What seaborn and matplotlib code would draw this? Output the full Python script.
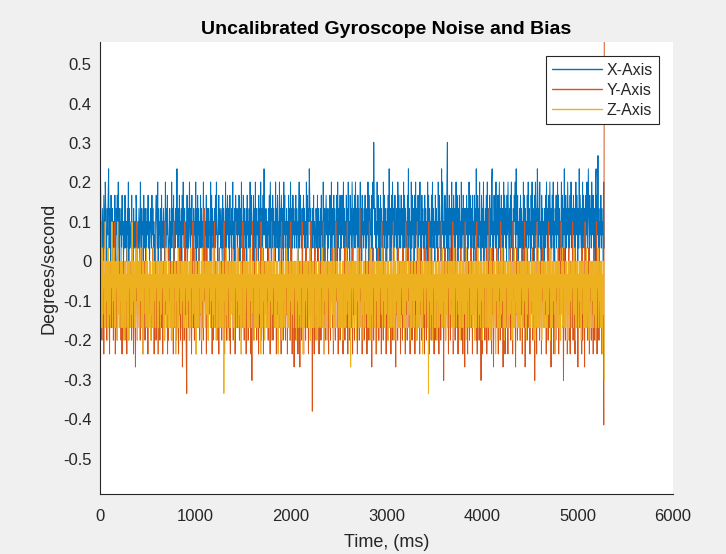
import matplotlib
matplotlib.use("Agg")
import matplotlib.pyplot as plt
import numpy as np
import pandas as pd
import seaborn as sns

# gyro readings are quantised, one level is about 0.0335 deg/s
STEP = 0.0335
T_END = 5280  # ms

# each char is one sample: level = int(c, 36) - offset
x_offset = 3
x_codes = (
    "7a5647538649734758a476385" "4736458437582947365748563" "6485463759374564836475463"
    "8745647539647563845736475" "8463576485746354786493756" "4738564756394758634573649"
    "5748364756a64738564738596" "4735648374596475836475649" "3748573648574659473658475"
    "4756394857463748596436857" "6475384756394758647385647" "5946374857647586374956384"
    "7564738564739487564837594" "6756384759647385a56475463" "7584963748574639574856394"
    "7586473958465746385749637" "4857465847563794856473685" "7463958476a85736475846357"
    "6483756473856495374685736" "4758639475683746583947568" "3748569473658475946385749"
    "6375849657384756947385647" "5837465938475648397c85746" "3958476385746395847563748"
    "5a63748596473856473958476" "4857639485746385a47563948" "5763849576384759463857463"
    "8574639584756384957463857" "4639587463a59746385749c37" "4857639475863749586374856"
    "3947586374758637495863748" "5638475a6384759463857493" "6574839576384759a46385749"
    "4758369475863749586473859" "6374859463758694a75836475" "8475639485746385947563849"
    "5763849576a84759463857463" "7485963748596374859463758" "4695837465938475a63847596"
    "3748596475863749586374a58" "6473958476385947a63857496" "5847639a485b4736584756394")

# y and z use their own level tables (deg/s)
y_levels = {"h": 0.168, "g": 0.134, "f": 0.1, "e": 0.034, "d": 0.0, "c": -0.034,
            "b": -0.067, "a": -0.067, "9": -0.1, "8": -0.134, "7": -0.168,
            "6": -0.2, "5": -0.235, "4": -0.268, "3": -0.302, "2": -0.335,
            "1": -0.38, "0": -0.4}
y_codes = (
    "e9b6d8a5c7f9b6a8e7c5d9b7a" "8d6b9f5c7a6e8b9d7a6c5a8d7" "b6d9a5e8c6b7a9d6b8e5a7c4b"
    "9f6a8d7b6a9e7c5b8d6a9c7b5" "c8ad7b6a9e8c5b7f6a8d5b9a6" "c8e7b5d9a6f8c7b5a6e9b7d6a"
    "8c5f7b9a6d8c75b8e6a9d4c7b" "6f8a52e9b7c6a8d5b9f7e6a8c" "5b7da9e6c8b5d7a6g9b8c5e7b"
    "6a8d9c7e5a6b8f7d9a6c8b5e7" "a9d6c8b7f5a9e6d8d7b6a5c9e" "8b6d7a5f8cb7e9a6c8d5b7f9a"
    "6e8c5a8d6b9c7e5a3f8b6d9c7" "e6a8b5d7c9f6a8e5b7d9c7b9a" "6e8d5c7f9b6a8e79a5d8c6b7e"
    "9a5f8c6d7ba6e8c5b9d7a6f8e" "5c7b4d8a6c9e5b7d4a8c6f9b5" "d8a6e9c7b5d8a6f9c1b7a5e8d"
    "6b9a7e5c8d6a9b7f5c8e6a9d7" "b5c8a6d9e7b5a8c6f9d7b5a8e" "6c9b7d5a8e6c9b7f5a8d6c9b7"
    "e5a8d6b9c7a5e8d6g9b7c5a8d" "6b9e7c5a8d6f9b7c4a8e6d9b7" "c5a8e6d9b7a5f8c6d9b7e5a8c"
    "6d9b7a5e8c6f9d7b4a8c6e9b7" "d5a8c6e9b7d5f8a6c9e7b5d8a" "6c9e7b5a8d6f9c7b5e8a6d9c7"
    "b5e8a6d9c7f5b8a6e9d7c5b8a" "6d9c7e5b8a6f9d7c3b8e6a9d7" "c5b8e6a9d7f5c8b6e9a7d5c8b"
    "7e9a6d5c8b4f9e7a5d8c6b9e7" "a5d8c7b9e6f5a8d6c9b3e5a8d" "9c6b7e5a8d6g9c7b5e8a4d9c6"
    "b7e8a5d9c6f7b8a4e9d5c7b8a" "5d9c8e6b7a5f9d7c4b8e6a9d7" "c6b8e5a9d7f4c8b6e9a7d5c8b"
    "9e6a7d3c8b5f9e7a6d8c5b9e7" "a7d8c5b9e6f7a8d4c9b7e5a8d" "6c9b7e5a8d6f9c7b3e8a6d9c5"
    "b8e6a5d9c7f6b8a5e9d7c4b8a" "7d9c5e6b8a4f9d7c6b8e5a9d6" "c8b5e6a9d7f5c8b6e9a7d5c8b")
y_first = [0.556]
y_last = [-0.415, 0.556]

z_levels = {"h": 0.235, "d": 0.1, "c": 0.034, "b": 0.0, "a": -0.034, "9": -0.067,
            "8": -0.1, "7": -0.134, "6": -0.168, "5": -0.168, "4": -0.2,
            "3": -0.235, "2": -0.268, "1": -0.302, "0": -0.335}
z_codes = (
    "hdb5c7b9a5d6b8b4c5b7a5b9d" "5b8c6b5a9b4d7b5a8b6c5b9a4" "b7b5a8c6b4b9a5b7d5b8a6b5c"
    "9b4a7b5b8c6a5b3b9a7b5c8b6" "a5b9b4a7b6c5b8a5b9b3a6b8b" "5a7b9b6a4b8c5b7a5b9b6a8b4"
    "b7a5b9b3a8b6c5b9a7b5b8a4b" "6b9a5b7b8a4b6c9b5a7b8a5b3" "b8a6b5b9a7b4c8b5a9b6b7a5b"
    "4b9a6b8b5a7c5b9a4b6b8a5b7" "b5a9b6b0a8b5c7b4a9b6b5a8b" "7b5a4b9b6a8c5b7a5b3b9a6b8"
    "5b7a9b4b6a5c8b5a7b9b4a6b5" "b8a5b7b9a3b6c5b8a4b7b5a9b" "6b5a8b4b7a9c5b6a5b8b3a7b5"
    "b9a4b6b8a5b7c9b5a6b4b8a5b" "7b5a9b6b4a8c5b7a5b9b6a3b8" "5b8a6b9b5a7c4b8a5b6b9a5b7"
    "b4a7b5b8a6b9c5b3a8b5b7a4b" "9b6a5b8b7a4c6b5a9b8b5a7b6" "b5a8b4b9a6b5c7b8a5b6b2a9b"
    "6b9a5b7b4a8c5b6a9b5b7a4b8" "b5a7b9b6a5b8c4b7a5b9b6a3b" "8b5a6b4b9a7c5b8a6b5b7a9b4"
    "b7a5b8b6a9b5c4b7a8b5b6a5b" "5b9a7b5b4a6c8b5a9b7b4a6b8" "b6a5b8b9a4b7c5b6a8b5b3a9b"
    "7b5a9b6b0a8c5b7a4b9b6a5b8" "b4a8b5b7a9b6c5b8a5b4b7a6b" "9b5a7b8b5a4c6b9a5b8b7a5b4"
    "b8a6b5b9a7b4c5b8a6b9b5a7b" "5b7a4b8b6a9c5b7a5b8b4a6b9" "b6a9b5b7a5b8c4b6a9b5b7a3b"
    "8b4a6b9b5a7c8b5a4b6b9a5b7" "b5a7b8b4a6b9c5b8a7b5b6a4b" "6b9a5b7b8a5c4b7a9b6b5a8b5"
    "b7a4b6b9a5b8c6b5a7b4b9a5b" "5b8a6b5b7a9c4b6a5b8b7a3b9" "b6a5b9b4a8b7c5b9a6b5b8a4b"
    "7b5a8b6b9a5c7b4a6b9b5a8b6" "b4a9b7b5a6b8c5b7a4b6b9a5b" "8b5a7b4b6a9c5b8a6b5b3a7b1")
z_first = [-0.59]

series_names = ["X-Axis", "Y-Axis", "Z-Axis"]
colors = ["#0072BD", "#D95319", "#EDB120"]

y_ticks = [-0.5, -0.4, -0.3, -0.2, -0.1, 0, 0.1, 0.2, 0.3, 0.4, 0.5]
y_labels = ["-0.5", "-0.4", "-0.3", "-0.2", "-0.1", "0", "0.1", "0.2", "0.3", "0.4", "0.5"]
x_ticks = [0, 1000, 2000, 3000, 4000, 5000, 6000]


def decode(codes, offset):
    return [(int(c, 36) - offset) * STEP for c in codes]


gx = decode(x_codes, x_offset)
gy = y_first + [y_levels[c] for c in y_codes] + y_last
gz = z_first + [z_levels[c] for c in z_codes]

frames = []
for name, vals in zip(series_names, [gx, gy, gz]):
    frames.append(pd.DataFrame({"t": np.linspace(0, T_END, len(vals)),
                                "val": vals, "axis": name}))
df = pd.concat(frames, ignore_index=True)

sns.set_style("white")
plt.rcParams["font.family"] = ["Liberation Sans", "DejaVu Sans"]

fig = plt.figure(figsize=(7.26, 5.54), dpi=100, facecolor="#f0f0f0")
ax = fig.add_axes([0.1377, 0.1083, 0.7893, 0.8159])
ax.set_facecolor("white")

sns.lineplot(data=df, x="t", y="val", hue="axis", palette=colors,
             hue_order=series_names, estimator=None, sort=False,
             linewidth=0.7, ax=ax)

ax.set_xlim(0, 6000)
ax.set_ylim(-0.59, 0.556)
ax.set_xticks(x_ticks)
ax.set_yticks(y_ticks)
ax.set_yticklabels(y_labels)

for s in ["top", "right"]:
    ax.spines[s].set_visible(False)
for s in ["left", "bottom"]:
    ax.spines[s].set_color("#262626")
    ax.spines[s].set_linewidth(0.8)
ax.tick_params(direction="in", length=4, color="#262626", labelcolor="#262626",
               labelsize=12, width=0.8)
ax.tick_params(axis="x", pad=11)
ax.tick_params(axis="y", pad=6)

ax.set_title("Uncalibrated Gyroscope Noise and Bias", fontsize=14,
             fontweight="bold", color="black", pad=6)
ax.set_xlabel("Time, (ms)", fontsize=13, color="#262626", labelpad=7)
ax.set_ylabel("Degrees/second", fontsize=13, color="#262626", labelpad=4)

leg = ax.legend(loc="upper right", bbox_to_anchor=(0.976, 0.968), fontsize=11.5,
                frameon=True, fancybox=False, framealpha=1, edgecolor="#262626",
                handlelength=3.1, handletextpad=0.3, borderpad=0.4,
                labelspacing=0.32, borderaxespad=0)
leg.get_frame().set_linewidth(0.8)
for line in leg.get_lines():
    line.set_linewidth(1.0)

fig.savefig("out.png", dpi=100, facecolor=fig.get_facecolor())
